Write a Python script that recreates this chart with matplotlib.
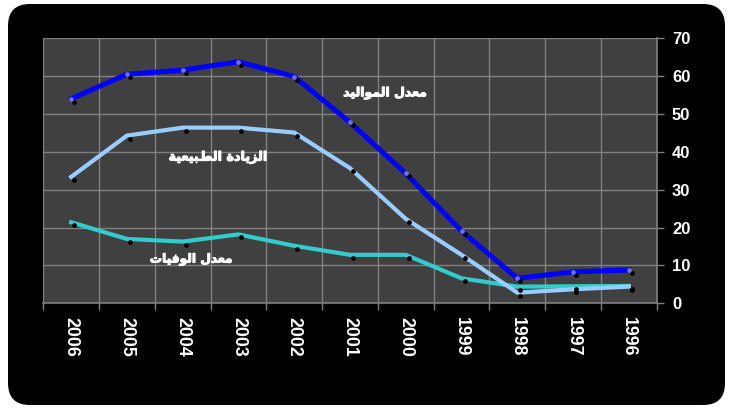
import matplotlib
matplotlib.use("Agg")
import matplotlib.pyplot as plt
import matplotlib.patheffects as pe
from matplotlib.patches import FancyBboxPatch
from matplotlib.transforms import ScaledTranslation

years = ["2006", "2005", "2004", "2003", "2002", "2001", "2000", "1999", "1998", "1997", "1996"]
births = [54.0, 60.5, 61.6, 63.8, 59.9, 47.8, 34.3, 19.1, 6.6, 8.3, 8.8]
natural_increase = [33.4, 44.3, 46.4, 46.4, 45.1, 35.7, 22.3, 12.8, 2.8, 3.7, 4.4]
deaths = [21.4, 17.0, 16.3, 18.2, 15.2, 12.8, 12.8, 6.6, 4.4, 4.5, 4.6]
y_ticks = [0, 10, 20, 30, 40, 50, 60, 70]

# Arabic labels, pre-shaped (presentation forms, visual order)
label_births = "\uFEAA\uFEF4\uFEDF\uFE8D\uFEEE\uFEE4\uFEDF\uFE8D \uFEDD\uFEAA\uFECC\uFEE3"        # معدل المواليد
label_natural = "\uFE94\uFEF4\uFECC\uFEF4\uFE92\uFEC2\uFEDF\uFE8D \uFE93\uFEA9\uFE8E\uFEF3\uFEB0\uFEDF\uFE8D"  # الزيادة الطبيعية
label_deaths = "\uFE95\uFE8E\uFEF4\uFED3\uFEEE\uFEDF\uFE8D \uFEDD\uFEAA\uFECC\uFEE3"          # معدل الوفيات

W, H = 729, 409
fig = plt.figure(figsize=(W / 100, H / 100), dpi=100)
fig.patch.set_facecolor("white")

bg = FancyBboxPatch((8 / W, 4 / H), (717 / W), (401 / H),
                    boxstyle="round,pad=0,rounding_size=0.03",
                    transform=fig.transFigure, facecolor="black", edgecolor="none",
                    mutation_aspect=W / H, zorder=-10)
fig.patches.append(bg)

ax = fig.add_axes([43.3 / W, 1 - 303.3 / H, (656.7 - 43.3) / W, (303.3 - 38.3) / H])
ax.set_zorder(5)
ax.set_facecolor("#404040")

x = list(range(len(years)))
ax.plot(x, births, color="#0000FF", lw=3.6, solid_joinstyle="round", zorder=5)
ax.plot(x, natural_increase, color="#99CCFF", lw=3.0, solid_joinstyle="round", zorder=4)
ax.plot(x, deaths, color="#33CCCC", lw=3.0, solid_joinstyle="round", zorder=3)

off = ax.transData + ScaledTranslation(3 / 100, -3 / 100, fig.dpi_scale_trans)
for series in (births, natural_increase, deaths):
    ax.plot(x, series, linestyle="none", marker="o", ms=2.4, color="black",
            transform=off, zorder=6)
ax.plot(x, births, linestyle="none", marker="o", ms=2.4, color="#7070E0", zorder=7)

ax.set_xlim(-0.5, len(years) - 0.5)
ax.set_ylim(0, 70)

ax.set_xticks(x)
ax.set_xticklabels(years, rotation=270, color="white", fontsize=12.8,
                   fontweight="bold", family="Liberation Sans")
ax.set_xticks([i - 0.5 for i in range(len(years) + 1)], minor=True)
ax.tick_params(axis="x", which="major", length=0, pad=10)
ax.tick_params(axis="x", which="minor", length=5, color="#808080", width=1)

ax.yaxis.tick_right()
ax.set_yticks(y_ticks)
ax.set_yticklabels([str(v) for v in y_ticks], color="white", fontsize=12,
                   fontweight="bold", family="Liberation Sans")
ax.tick_params(axis="y", length=5, color="#808080", width=1, pad=6)

ax.grid(True, which="minor", axis="x", color="#808080", lw=1)
ax.grid(True, which="major", axis="y", color="#808080", lw=1)
ax.set_axisbelow(True)

for s in ("top", "left"):
    ax.spines[s].set_visible(False)
for s in ("bottom", "right"):
    ax.spines[s].set_color("#808080")
    ax.spines[s].set_linewidth(1.2)

thick = [pe.withStroke(linewidth=0.7, foreground="white")]
ax.text(5.63, 55.6, label_births, color="white", fontsize=9.0, fontweight="bold",
        ha="center", va="center", family="DejaVu Sans", zorder=8, path_effects=thick)
ax.text(2.63, 38.6, label_natural, color="white", fontsize=9.2, fontweight="bold",
        ha="center", va="center", family="DejaVu Sans", zorder=8, path_effects=thick)
ax.text(2.15, 11.6, label_deaths, color="white", fontsize=8.8, fontweight="bold",
        ha="center", va="center", family="DejaVu Sans", zorder=8, path_effects=thick)

fig.savefig("out.png", dpi=100, facecolor="white")
